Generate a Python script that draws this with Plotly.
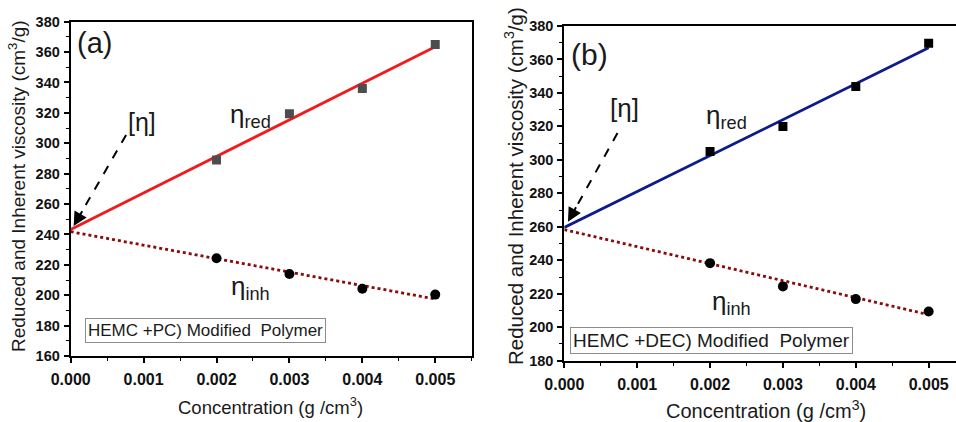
import plotly.graph_objects as go

# ---------------- data ----------------
conc = [0.002, 0.003, 0.004, 0.005]
fit_x = [0.0, 0.005]

a_red = [289, 319.5, 336, 365]
a_inh = [224.3, 214, 204.3, 200.4]
a_red_fit = [243.3, 363.5]
a_inh_fit = [241.8, 197.5]

b_red = [305, 320, 343.8, 369.7]
b_inh = [238.3, 224.4, 216.8, 209.4]
b_red_fit = [259.6, 367]
b_inh_fit = [258.3, 207.5]

x_ticks = [0.000, 0.001, 0.002, 0.003, 0.004, 0.005]

W, H = 956, 422
FONT = "Liberation Sans, Arial, sans-serif"

fig = go.Figure()

def add_panel(xa, ya, red, inh, red_fit, inh_fit, red_line_color, sq_color):
    fig.add_trace(go.Scatter(x=fit_x, y=red_fit, mode="lines",
                             line=dict(color=red_line_color, width=2.8),
                             xaxis=xa, yaxis=ya, showlegend=False))
    fig.add_trace(go.Scatter(x=fit_x, y=inh_fit, mode="lines",
                             line=dict(color="#8b0a0a", width=2.8, dash="dot"),
                             xaxis=xa, yaxis=ya, showlegend=False))
    fig.add_trace(go.Scatter(x=conc, y=red, mode="markers",
                             marker=dict(symbol="square", size=9, color=sq_color),
                             xaxis=xa, yaxis=ya, showlegend=False))
    fig.add_trace(go.Scatter(x=conc, y=inh, mode="markers",
                             marker=dict(symbol="circle", size=10, color="#000000"),
                             xaxis=xa, yaxis=ya, showlegend=False))

add_panel("x", "y", a_red, a_inh, a_red_fit, a_inh_fit, "#f21a1a", "#4d4d4d")
add_panel("x2", "y2", b_red, b_inh, b_red_fit, b_inh_fit, "#0d1a8c", "#000000")

# dashed arrow shafts
arrow_a = dict(tail=(0.00076, 305.5), head=(0.00004, 245.5))
arrow_b = dict(tail=(0.00073, 316.0), head=(0.00005, 263.0))
for arr, xa, ya in [(arrow_a, "x", "y"), (arrow_b, "x2", "y2")]:
    (tx, ty), (hx, hy) = arr["tail"], arr["head"]
    fx = hx + (tx - hx) * 0.18
    fy = hy + (ty - hy) * 0.18
    fig.add_trace(go.Scatter(x=[tx, fx], y=[ty, fy], mode="lines",
                             line=dict(color="black", width=2, dash="dash"),
                             xaxis=xa, yaxis=ya, showlegend=False))
    fig.add_annotation(x=hx, y=hy, ax=fx, ay=fy, xref=xa, yref=ya,
                       axref=xa, ayref=ya, text="", showarrow=True,
                       arrowhead=2, arrowsize=1.4, arrowwidth=2, arrowcolor="black",
                       standoff=0, startstandoff=0)

axis_common = dict(showline=True, linecolor="black", linewidth=2, mirror=True,
                   ticks="outside", ticklen=5, tickwidth=1.8, tickcolor="black",
                   showgrid=False, zeroline=False, automargin=False)

minor_x = dict(dtick=0.0005, tick0=0, ticklen=3, tickwidth=1.4, tickcolor="black", ticks="outside")

fig.update_layout(
    template="none",
    width=W, height=H, margin=dict(l=0, r=0, t=0, b=0, pad=0),
    paper_bgcolor="white", plot_bgcolor="white",
    font=dict(family=FONT, color="#1a1a1a"),
    xaxis=dict(domain=[70.7 / W, 471.7 / W], range=[0, 0.0055], anchor="y",
               tickvals=x_ticks, tickformat=".3f", minor=minor_x,
               tickfont=dict(family=FONT, size=16, weight="bold", color="#111111"),
               ticklabelstandoff=3, **axis_common),
    yaxis=dict(domain=[1 - 356 / H, 1 - 21.7 / H], range=[160, 380], anchor="x",
               dtick=20, tick0=160,
               minor=dict(dtick=10, tick0=160, ticklen=3, tickwidth=1.4,
                          tickcolor="black", ticks="outside"),
               tickfont=dict(family=FONT, size=14.5, weight="bold", color="#111111"),
               ticklabelstandoff=1, **axis_common),
    xaxis2=dict(domain=[564.3 / W, 1.0], range=[0, 0.005375], anchor="y2",
                tickvals=x_ticks, tickformat=".3f", minor=minor_x,
                tickfont=dict(family=FONT, size=16, weight="bold", color="#111111"),
                ticklabelstandoff=3, **axis_common),
    yaxis2=dict(domain=[1 - 360.7 / H, 1 - 26 / H], range=[180, 380], anchor="x2",
                dtick=20, tick0=180,
                minor=dict(dtick=10, tick0=180, ticklen=3, tickwidth=1.4,
                           tickcolor="black", ticks="outside"),
                tickfont=dict(family=FONT, size=14.5, weight="bold", color="#111111"),
                ticklabelstandoff=1,
                **{**axis_common, "mirror": False}),
)

def px(x):
    return x / W

def py(y):
    return 1 - y / H

ann = []
# axis titles
ann.append(dict(text="Reduced and Inherent viscosity (cm<sup>3</sup>/g)", x=px(17), y=py(186),
                textangle=-90, font=dict(size=19)))
ann.append(dict(text="Concentration (g /cm<sup>3</sup>)", x=px(270), y=py(406), font=dict(size=18.5)))
ann.append(dict(text="Reduced and Inherent viscosity (cm<sup>3</sup>/g)", x=px(514), y=py(186),
                textangle=-90, font=dict(size=20.5)))
ann.append(dict(text="Concentration (g /cm<sup>3</sup>)", x=px(766), y=py(409), font=dict(size=20)))
for a in ann:
    a.update(xref="paper", yref="paper", showarrow=False, xanchor="center", yanchor="middle")
    fig.add_annotation(**a)

# in-plot labels
labels = [
    ("(a)", 0.00033, 366, "x", "y", 29),
    ("[η]", 0.00098, 314, "x", "y", 25),
    ("η<sub>red</sub>", 0.00246, 318, "x", "y", 26),
    ("η<sub>inh</sub>", 0.00246, 205, "x", "y", 26),
    ("(b)", 0.00034, 363, "x2", "y2", 30),
    ("[η]", 0.00082, 331, "x2", "y2", 26),
    ("η<sub>red</sub>", 0.00222, 326, "x2", "y2", 26),
    ("η<sub>inh</sub>", 0.00229, 215, "x2", "y2", 26),
]
for t, x, y, xr, yr, s in labels:
    fig.add_annotation(text=t, x=x, y=y, xref=xr, yref=yr, showarrow=False,
                       xanchor="center", yanchor="middle", font=dict(size=s, color="#1a1a1a"))

# sample boxes
fig.add_annotation(text="HEMC +PC) Modified \u00a0Polymer", x=px(85), y=py(318),
                   xref="paper", yref="paper", xanchor="left", yanchor="top",
                   showarrow=False, font=dict(size=17, color="#1a1a1a"),
                   bordercolor="#8c8c8c", borderwidth=1, borderpad=2, bgcolor="white")
fig.add_annotation(text="HEMC +DEC) Modified \u00a0Polymer", x=px(570.3), y=py(326.7),
                   xref="paper", yref="paper", xanchor="left", yanchor="top",
                   showarrow=False, font=dict(size=19, color="#1a1a1a"),
                   bordercolor="#8c8c8c", borderwidth=1, borderpad=2, bgcolor="white")

fig.write_html("out.html")
